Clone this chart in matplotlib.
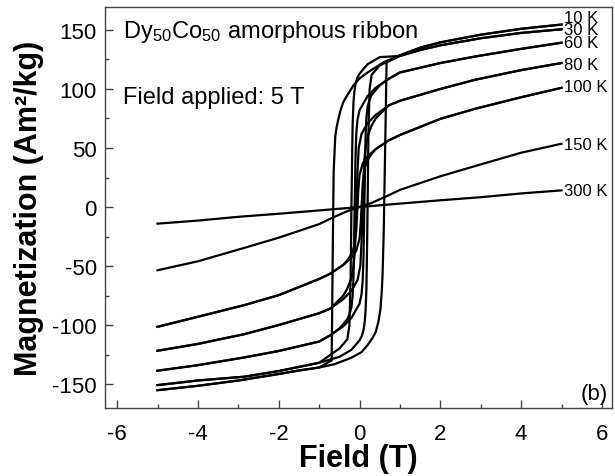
import matplotlib
matplotlib.use("Agg")
import matplotlib.pyplot as plt
from matplotlib.ticker import MultipleLocator

plt.rcParams['font.family'] = ['Liberation Sans', 'DejaVu Sans']
plt.rcParams['axes.unicode_minus'] = False
plt.rcParams['mathtext.fontset'] = 'custom'
plt.rcParams['mathtext.rm'] = 'Liberation Sans'
plt.rcParams['mathtext.default'] = 'regular'

# Hysteresis loops, M (Am^2/kg) vs field (T)
# ascending branch: -5 T -> +5 T, descending branch: +5 T -> -5 T
h_10k_up = [-5, -4, -3, -2, -1.5, -1, -0.64, -0.22, 0.05, 0.2, 0.32, 0.4, 0.47, 0.52, 0.55, 0.57, 0.6, 0.62, 0.65, 0.67,
            1.0, 1.5, 2, 3, 4, 5]
m_10k_up = [-155.2, -151.5, -147, -141.5, -138.5, -136, -133.4, -128, -123, -117, -111, -106, -97, -86, -72, -58, -20, 20, 80, 122.6,
            128.5, 135, 139.5, 146, 151, 154.6]
h_10k_dn = [5, 4, 3, 2, 1.5, 1.0, 0.6, 0.2, 0.0, -0.15, -0.28, -0.4, -0.47, -0.52, -0.57, -0.6, -0.64, -0.66, -0.68, -0.69,
            -1, -1.5, -2, -3, -4, -5]
m_10k_dn = [154.6, 151, 146, 139.5, 135, 128.5, 122.7, 114, 109, 103, 96, 89, 82, 75, 67, 60, 30, -30, -100, -130,
            -136, -138.5, -141.5, -147, -151.5, -155.2]

h_30k_up = [-5, -4, -2.86, -2, -1, -0.5, -0.2, 0, 0.06, 0.1, 0.13, 0.15, 0.17, 0.18, 0.2, 0.22, 0.25, 0.3, 0.5,
            1, 1.5, 2, 3, 4, 5]
m_30k_up = [-150.9, -147, -143.8, -139, -132, -127, -121, -113, -109, -104, -97, -88, -70, -50, 0, 60, 100, 112, 120,
            128, 133, 137, 143, 147.5, 150.6]
h_30k_dn = [5, 4, 3, 2, 1.5, 1, 0.5, 0.2, 0, -0.06, -0.1, -0.13, -0.15, -0.17, -0.18, -0.2, -0.22, -0.25, -0.3,
            -0.5, -1, -2, -2.86, -4, -5]
m_30k_dn = [150.6, 147.5, 143, 137, 133, 128, 127, 121, 113, 109, 104, 97, 88, 70, 50, 0, -60, -100, -112,
            -120, -132, -139, -143.8, -147, -150.9]

h_60k_up = [-5, -4, -2.86, -2, -1, -0.72, -0.4, -0.2, 0, 0.05, 0.08, 0.1, 0.12, 0.15, 0.17, 0.2, 0.25, 0.3, 0.5, 0.72,
            1, 2, 2.86, 4, 5]
m_60k_up = [-138.7, -134, -127.5, -122, -114, -108.6, -101, -94, -82, -74, -62, -40, 0, 60, 75, 85, 91, 95, 103, 108.6,
            114, 122, 127.5, 134, 139.2]
h_60k_dn = [5, 4, 2.86, 2, 1, 0.72, 0.4, 0.2, 0, -0.05, -0.08, -0.1, -0.12, -0.15, -0.17, -0.2, -0.25, -0.3, -0.5, -0.72,
            -1, -2, -2.86, -4, -5]
m_60k_dn = [139.2, 134, 127.5, 122, 114, 108.6, 101, 94, 82, 74, 62, 40, 0, -60, -75, -85, -91, -95, -103, -108.6,
            -114, -122, -127.5, -134, -138.7]

h_80k_up = [-5, -4, -2.86, -2, -1, -0.72, -0.4, -0.2, -0.05, 0.02, 0.05, 0.08, 0.1, 0.12, 0.16, 0.2, 0.3, 0.4, 0.72,
            1, 2, 2.86, 4, 5]
m_80k_up = [-121.8, -116, -107.8, -100, -90, -86, -78, -71, -62, -50, -30, 0, 25, 40, 53, 60, 69, 75, 86,
            90, 100, 107.8, 116, 122]
h_80k_dn = [5, 4, 2.86, 2, 1, 0.72, 0.4, 0.2, 0.05, -0.02, -0.05, -0.08, -0.1, -0.12, -0.16, -0.2, -0.3, -0.4, -0.72,
            -1, -2, -2.86, -4, -5]
m_80k_dn = [122, 116, 107.8, 100, 90, 86, 78, 71, 62, 50, 30, 0, -25, -40, -53, -60, -69, -75, -86,
            -90, -100, -107.8, -116, -121.8]

h_100k_up = [-5, -4, -2.86, -2, -1, -0.72, -0.4, -0.2, -0.08, 0, 0.03, 0.05, 0.08, 0.12, 0.2, 0.3, 0.4, 0.72,
             1, 2, 2.86, 4, 5]
m_100k_up = [-101.5, -93, -83.2, -74.7, -61, -56.4, -49, -43, -37, -27, -14, 0, 20, 32, 40, 45, 49, 56.4,
             61, 74.7, 83.2, 93, 101]
h_100k_dn = [5, 4, 2.86, 2, 1, 0.72, 0.4, 0.2, 0.08, 0, -0.03, -0.05, -0.08, -0.12, -0.2, -0.3, -0.4, -0.72,
             -1, -2, -2.86, -4, -5]
m_100k_dn = [101, 93, 83.2, 74.7, 61, 56.4, 49, 43, 37, 27, 14, 0, -20, -32, -40, -45, -49, -56.4,
             -61, -74.7, -83.2, -93, -101.5]

h_150k = [-5, -4, -2.86, -2, -1, -0.72, -0.3, 0, 0.3, 0.72, 1, 2, 2.86, 4, 5]
m_150k = [-53.6, -46, -34.7, -26, -14.5, -9.9, -3.5, 0, 3.5, 9.9, 14.5, 26, 34.7, 46, 53.6]

h_300k = [-5, -4, -3, -2, -1, 0, 1, 2, 3, 4, 5]
m_300k = [-14.1, -11.5, -8.3, -5.7, -2.9, 0, 2.9, 5.7, 8.3, 11.5, 14.1]

temp_labels = ["10 K", "30 K", "60 K", "80 K", "100 K", "150 K", "300 K"]
label_y = [161, 150, 139, 121, 102, 52.7, 13.8]

fig = plt.figure(figsize=(6.15, 4.77), dpi=100)
ax = fig.add_axes([105 / 615, 68 / 477, 507 / 615, 401.5 / 477])

loops = [
    (h_10k_up, m_10k_up), (h_10k_dn, m_10k_dn),
    (h_30k_up, m_30k_up), (h_30k_dn, m_30k_dn),
    (h_60k_up, m_60k_up), (h_60k_dn, m_60k_dn),
    (h_80k_up, m_80k_up), (h_80k_dn, m_80k_dn),
    (h_100k_up, m_100k_up), (h_100k_dn, m_100k_dn),
    (h_150k, m_150k), (h_300k, m_300k),
]
for h, m in loops:
    ax.plot(h, m, color='black', lw=1.6, solid_joinstyle='round')

for lab, y in zip(temp_labels, label_y):
    ax.text(5.05, y, lab, fontsize=12, ha='left', va='center')

ax.text(0.035, 0.94, "Dy$_{50}$Co$_{50}$ amorphous ribbon", transform=ax.transAxes,
        fontsize=17, va='center', ha='left')
ax.text(0.035, 0.775, "Field applied: 5 T", transform=ax.transAxes,
        fontsize=17, va='center', ha='left')
ax.text(0.992, 0.035, "(b)", transform=ax.transAxes, fontsize=16, va='center', ha='right')

ax.set_xlim(-6.3, 6.25)
ax.set_ylim(-170.3, 169.9)
ax.xaxis.set_major_locator(MultipleLocator(2))
ax.xaxis.set_minor_locator(MultipleLocator(1))
ax.yaxis.set_major_locator(MultipleLocator(50))
ax.yaxis.set_minor_locator(MultipleLocator(25))
ax.tick_params(which='both', direction='in', top=False, right=False, color='#444444', width=1)
ax.tick_params(which='major', length=5.5, labelsize=16)
ax.tick_params(which='minor', length=3)
ax.tick_params(axis='x', pad=11)
ax.tick_params(axis='y', pad=6)
for sp in ax.spines.values():
    sp.set_color('#444444')
    sp.set_linewidth(1)

ax.set_xlabel("Field (T)", fontsize=22, fontweight='bold', labelpad=-1)
ax.set_ylabel("Magnetization (Am²/kg)", fontsize=22, fontweight='bold', labelpad=6)

fig.savefig("out.png", dpi=100)
